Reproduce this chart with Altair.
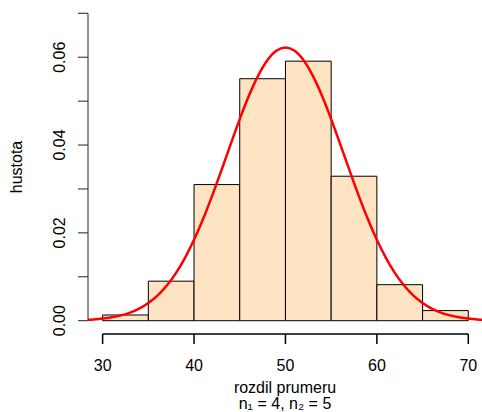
import altair as alt
import pandas as pd

# Histogram of differences in means (density scale)
bin_starts = [30, 35, 40, 45, 50, 55, 60, 65]
bin_width = 5
densities = [0.0013, 0.0090, 0.0310, 0.0551, 0.0591, 0.0329, 0.0082, 0.0023]

# Fitted normal density curve, sampled at whole numbers
curve_x = list(range(28, 73))
curve_y = [0.00017, 0.00029, 0.00048, 0.00077, 0.00121, 0.00185, 0.00276, 0.00403,
           0.00573, 0.00796, 0.01079, 0.01427, 0.01842, 0.02321, 0.02855, 0.03427,
           0.04014, 0.04589, 0.05120, 0.05575, 0.05925, 0.06145, 0.06220, 0.06145,
           0.05925, 0.05575, 0.05120, 0.04589, 0.04014, 0.03427, 0.02855, 0.02321,
           0.01842, 0.01427, 0.01079, 0.00796, 0.00573, 0.00403, 0.00276, 0.00185,
           0.00121, 0.00077, 0.00048, 0.00029, 0.00017]

x_ticks = [30, 40, 50, 60, 70]
y_ticks = [0.0, 0.01, 0.02, 0.03, 0.04, 0.05, 0.06, 0.07]
y_labels = [0.0, 0.02, 0.04, 0.06]
x_domain = [28.4, 71.5]
y_domain = [-0.0028, 0.0728]

x_title = "rozdil prumeru"
x_subtitle = "n\u2081 = 4, n\u2082 = 5"
y_title = "hustota"

FONT = "Liberation Sans"
W, H = 394, 332
TICK = 10
AXIS_COLOR = "#222222"

hist_df = pd.DataFrame({
    "start": bin_starts,
    "end": [s + bin_width for s in bin_starts],
    "density": densities,
    "zero": [0.0] * len(bin_starts),
})
curve_df = pd.DataFrame({"x": curve_x, "y": curve_y})
xt_df = pd.DataFrame({"v": x_ticks, "lab": [str(v) for v in x_ticks]})
yt_df = pd.DataFrame({"v": y_ticks})
yl_df = pd.DataFrame({"v": y_labels, "lab": [f"{v:.2f}" for v in y_labels]})

xscale = alt.Scale(domain=x_domain, nice=False, zero=False)
yscale = alt.Scale(domain=y_domain, nice=False, zero=False)


def X(field):
    return alt.X(field, scale=xscale, axis=None)


def Y(field):
    return alt.Y(field, scale=yscale, axis=None)


bars = alt.Chart(hist_df).mark_rect(
    fill="#FFE4C4", stroke="black", strokeWidth=1
).encode(x=X("start:Q"), x2="end:Q", y=Y("density:Q"), y2="zero:Q")

curve = alt.Chart(curve_df).mark_line(
    color="red", strokeWidth=2.5, clip=True, interpolate="monotone"
).encode(x=X("x:Q"), y=Y("y:Q"))

# Bottom axis line and outward ticks, just below the plot area
x_line = alt.Chart(pd.DataFrame({"a": [x_ticks[0]], "b": [x_ticks[-1]]})).mark_rule(
    color="black", strokeWidth=1.5
).encode(x=X("a:Q"), x2="b:Q", y=alt.value(H + 1))
x_tick_marks = alt.Chart(xt_df).mark_rule(color="black", strokeWidth=1.5).encode(
    x=X("v:Q"), y=alt.value(H + 1), y2=alt.value(H + 1 + TICK)
)

# Left axis
y_line = alt.Chart(pd.DataFrame({"a": [y_ticks[0]], "b": [y_ticks[-1]]})).mark_rule(
    color=AXIS_COLOR, strokeWidth=1
).encode(y=Y("a:Q"), y2="b:Q", x=alt.value(0))
y_tick_marks = alt.Chart(yt_df).mark_rule(color=AXIS_COLOR, strokeWidth=1).encode(
    y=Y("v:Q"), x=alt.value(0), x2=alt.value(-TICK)
)

# Tick labels
x_tick_labels = alt.Chart(xt_df).mark_text(
    font=FONT, fontSize=16, color="black", align="center", baseline="alphabetic"
).encode(x=X("v:Q"), y=alt.value(H + 38), text="lab:N")

y_tick_labels = alt.Chart(yl_df).mark_text(
    font=FONT, fontSize=16, color="black", align="center", baseline="alphabetic",
    angle=270
).encode(y=Y("v:Q"), x=alt.value(-TICK - 13), text="lab:N")

# Axis titles
x_title_mark = alt.Chart(pd.DataFrame({"t": [x_title]})).mark_text(
    font=FONT, fontSize=16, color="black", align="center", baseline="alphabetic"
).encode(x=alt.value(W / 2), y=alt.value(H + 60), text="t:N")

x_sub_mark = alt.Chart(pd.DataFrame({"t": [x_subtitle]})).mark_text(
    font=FONT, fontSize=16, color="black", align="center", baseline="alphabetic"
).encode(x=alt.value(W / 2), y=alt.value(H + 76), text="t:N")

y_title_mark = alt.Chart(pd.DataFrame({"t": [y_title]})).mark_text(
    font=FONT, fontSize=16, color="black", align="center", baseline="middle",
    angle=270
).encode(x=alt.value(-71), y=alt.value(H / 2), text="t:N")

chart = (
    alt.layer(
        bars, curve, y_line, y_tick_marks,
        x_tick_labels, y_tick_labels, x_title_mark, x_sub_mark, y_title_mark,
        x_line, x_tick_marks,
    )
    .properties(
        width=W, height=H,
        autosize=alt.AutoSizeParams(type="none"),
        padding={"left": 88, "top": 1, "right": 0, "bottom": 79},
    )
    .configure(font=FONT, background="white")
    .configure_view(stroke=None)
)

chart.save("out.html", embed_options={"renderer": "svg", "actions": False})
